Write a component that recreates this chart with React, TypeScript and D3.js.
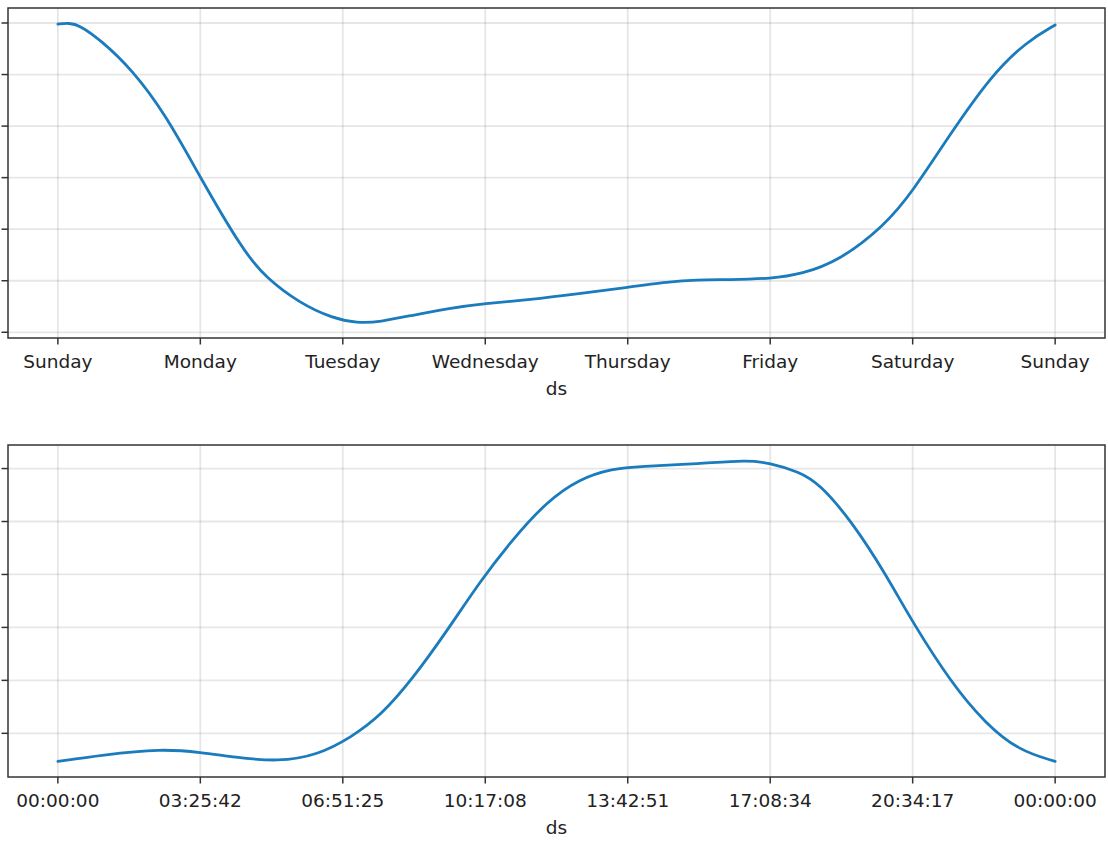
import React from "react";
import * as d3 from "d3";

// Weekly component: day offset from Sunday (0..7) and value
const weeklyDays = [0, 0.08, 0.15, 0.3, 0.52, 0.76, 1.0, 1.3, 1.46, 1.7, 1.93, 2.1, 2.26, 2.49, 2.73, 3.0, 3.31, 3.66, 3.99, 4.29, 4.48, 4.71, 5.01, 5.22, 5.48, 5.8, 6.0, 6.25, 6.55, 6.8, 7.0];
const weeklyValues = [5.98, 6.0, 5.96, 5.67, 5.1, 4.21, 3.0, 1.58, 1.06, 0.56, 0.27, 0.18, 0.2, 0.33, 0.46, 0.56, 0.63, 0.75, 0.87, 0.98, 1.02, 1.02, 1.04, 1.13, 1.38, 2.06, 2.73, 3.79, 4.98, 5.64, 5.96];
const weeklyTickLabels = ["Sunday", "Monday", "Tuesday", "Wednesday", "Thursday", "Friday", "Saturday", "Sunday"];
const weeklyYTicks = [0, 1, 2, 3, 4, 5, 6];

// Daily component: hour of day (0..24) and value
const dailyHours = [0, 1.05, 2.49, 3.45, 4.24, 5.3, 6.26, 7.05, 7.77, 8.56, 9.37, 10.17, 10.96, 11.77, 12.56, 13.35, 14.0, 15.44, 16.57, 17.12, 17.84, 18.32, 19.11, 19.92, 20.55, 21.51, 22.32, 23.11, 24.0];
const dailyValues = [-0.53, -0.41, -0.29, -0.36, -0.45, -0.54, -0.41, -0.08, 0.33, 1.05, 1.94, 2.88, 3.68, 4.38, 4.81, 5.0, 5.04, 5.09, 5.16, 5.11, 4.94, 4.72, 4.0, 3.01, 2.12, 0.94, 0.19, -0.32, -0.53];
const dailyTickLabels = ["00:00:00", "03:25:42", "06:51:25", "10:17:08", "13:42:51", "17:08:34", "20:34:17", "00:00:00"];
const dailyYTicks = [0, 1, 2, 3, 4, 5];

const FONT = "'DejaVu Sans', sans-serif";
const LINE = "#1a7bbd";

function Panel({ xs, ys, xMax, tickLabels, yTicks, top, bottom }: any) {
  const left = 8, right = 1105;
  const padX = xMax * 0.05;
  const x = d3.scaleLinear().domain([-padX, xMax + padX]).range([left, right]);
  const [mn, mx] = d3.extent(ys) as [number, number];
  const padY = (mx - mn) * 0.05;
  const y = d3.scaleLinear().domain([mn - padY, mx + padY]).range([bottom, top]);
  const pts: [number, number][] = xs.map((d: number, i: number) => [d, ys[i]]);
  const line = d3.line<[number, number]>().x((d) => x(d[0])).y((d) => y(d[1])).curve(d3.curveBasis);
  const xTicks = tickLabels.map((_: string, i: number) => (xMax * i) / (tickLabels.length - 1));
  return (
    <g>
      {xTicks.map((t: number, i: number) => (
        <line key={"gx" + i} x1={x(t)} x2={x(t)} y1={top} y2={bottom} stroke="#808080" strokeOpacity={0.2} strokeWidth={1.8} />
      ))}
      {yTicks.map((t: number, i: number) => (
        <line key={"gy" + i} x1={left} x2={right} y1={y(t)} y2={y(t)} stroke="#808080" strokeOpacity={0.2} strokeWidth={1.8} />
      ))}
      <path d={line(pts) || ""} fill="none" stroke={LINE} strokeWidth={2.8} strokeLinecap="round" />
      <rect x={left} y={top} width={right - left} height={bottom - top} fill="none" stroke="#333" strokeWidth={1.5} />
      {yTicks.map((t: number, i: number) => (
        <line key={"ty" + i} x1={left - 6.5} x2={left} y1={y(t)} y2={y(t)} stroke="#333" strokeWidth={1.5} />
      ))}
      {xTicks.map((t: number, i: number) => (
        <g key={"tx" + i}>
          <line x1={x(t)} x2={x(t)} y1={bottom} y2={bottom + 6.5} stroke="#333" strokeWidth={1.5} />
          <text x={x(t)} y={bottom + 30} textAnchor="middle" fontFamily={FONT} fontSize={18.5} fill="#222">
            {tickLabels[i]}
          </text>
        </g>
      ))}
      <text x={(left + right) / 2} y={bottom + 57} textAnchor="middle" fontFamily={FONT} fontSize={18.5} fill="#222">
        ds
      </text>
    </g>
  );
}

export default function App() {
  return (
    <svg width={1108} height={843} style={{ position: "absolute", left: 0, top: 0, background: "#fff" }}>
      <rect width={1108} height={843} fill="#fff" />
      <Panel xs={weeklyDays} ys={weeklyValues} xMax={7} tickLabels={weeklyTickLabels} yTicks={weeklyYTicks} top={8} bottom={338} />
      <Panel xs={dailyHours} ys={dailyValues} xMax={24} tickLabels={dailyTickLabels} yTicks={dailyYTicks} top={445} bottom={777} />
    </svg>
  );
}
